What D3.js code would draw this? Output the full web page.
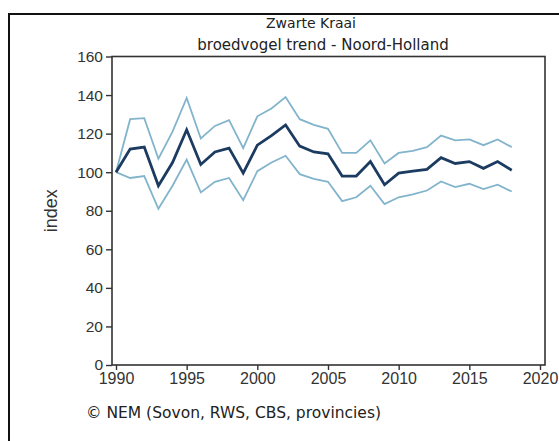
<!DOCTYPE html>
<html>
<head>
<meta charset="utf-8">
<script src="https://cdn.jsdelivr.net/npm/d3@7"></script>
<style>
  html, body { margin: 0; padding: 0; background: #fff; }
  svg { display: block; }
</style>
</head>
<body>
<svg id="chart" width="559" height="441"></svg>
<script>
const years = d3.range(1990, 2019);
const trend = [100, 112, 113, 93, 105, 122, 104, 110.5, 112.5, 99.5, 114, 119, 124.5, 113.5, 110.5, 109.5, 98, 98, 105.5, 93.5, 99.5, 100.5, 101.5, 107.5, 104.5, 105.5, 102, 105.5, 101];
const upper = [100, 127.5, 128, 107, 121, 138.5, 117.5, 124, 127, 112.5, 129, 133, 139, 127.5, 124.5, 122.5, 110, 110, 116.5, 104.5, 110, 111, 113, 119, 116.5, 117, 114, 117, 113];
const lower = [100, 97, 98, 81, 93, 106.5, 89.5, 95, 97, 85.5, 100.5, 105, 108.5, 99, 96.5, 95, 85, 87, 93, 83.5, 87, 88.5, 90.5, 95.2, 92.3, 94, 91.2, 93.5, 90];
const xTicks = [1990, 1995, 2000, 2005, 2010, 2015, 2020];
const yTicks = [0, 20, 40, 60, 80, 100, 120, 140, 160];
const title = "Zwarte Kraai";
const subtitle = "broedvogel trend - Noord-Holland";
const yLabel = "index";
const credit = "\u00A9 NEM (Sovon, RWS, CBS, provincies)";

const svg = d3.select("#chart");
const box = { left: 112, right: 545, top: 56.5, bottom: 365 };

const x = d3.scaleLinear().domain([1990, 2020]).range([116, 540]);
const y = d3.scaleLinear().domain([0, 160]).range([box.bottom, box.top]);

// outer frame
svg.append("rect")
  .attr("x", 9).attr("y", 14)
  .attr("width", 620).attr("height", 500)
  .attr("fill", "none").attr("stroke", "#111").attr("stroke-width", 2);

// titles
svg.append("text").attr("x", 311).attr("y", 28)
  .attr("text-anchor", "middle")
  .style("font-family", "DejaVu Sans, Verdana, sans-serif").style("font-size", "14px")
  .attr("fill", "#222").text(title);
svg.append("text").attr("x", 323).attr("y", 50)
  .attr("text-anchor", "middle")
  .style("font-family", "DejaVu Sans, Verdana, sans-serif").style("font-size", "15px")
  .attr("fill", "#222").text(subtitle);

// plot box
svg.append("rect")
  .attr("x", box.left).attr("y", box.top)
  .attr("width", box.right - box.left).attr("height", box.bottom - box.top)
  .attr("fill", "none").attr("stroke", "#333").attr("stroke-width", 1.6);

// y axis
const yAxis = d3.axisLeft(y).tickValues(yTicks).tickSize(6).tickPadding(3);
const gy = svg.append("g").attr("transform", `translate(${box.left},0)`).call(yAxis);
gy.select(".domain").remove();
gy.selectAll(".tick line").attr("stroke", "#333").attr("stroke-width", 1.4);
gy.selectAll(".tick text")
  .style("font-family", "Liberation Sans, Arial, sans-serif").style("font-size", "15.5px")
  .attr("fill", "#333");

// x axis
const xAxis = d3.axisBottom(x).tickValues(xTicks).tickFormat(d3.format("d")).tickSize(5).tickPadding(3);
const gx = svg.append("g").attr("transform", `translate(0,${box.bottom})`).call(xAxis);
gx.select(".domain").remove();
gx.selectAll(".tick line").attr("stroke", "#333").attr("stroke-width", 1.4);
gx.selectAll(".tick text")
  .style("font-family", "Liberation Sans, Arial, sans-serif").style("font-size", "16px")
  .attr("fill", "#333");

// y label
svg.append("text")
  .attr("transform", `translate(57,${(box.top + box.bottom) / 2}) rotate(-90)`)
  .attr("text-anchor", "middle")
  .style("font-family", "Liberation Sans, Arial, sans-serif").style("font-size", "18px")
  .attr("fill", "#333").text(yLabel);

// lines
const line = d3.line().x((d, i) => x(years[i])).y(d => y(d));
[[upper, "#82b4cc", 1.8], [lower, "#82b4cc", 1.8], [trend, "#1c3b60", 2.8]].forEach(([data, col, w]) => {
  svg.append("path").datum(data)
    .attr("d", line).attr("fill", "none")
    .attr("stroke", col).attr("stroke-width", w)
    .attr("stroke-linejoin", "miter");
});

// credit
svg.append("text").attr("x", 86).attr("y", 418)
  .style("font-family", "DejaVu Sans, Verdana, sans-serif").style("font-size", "15.5px")
  .attr("fill", "#222").text(credit);
</script>
</body>
</html>
